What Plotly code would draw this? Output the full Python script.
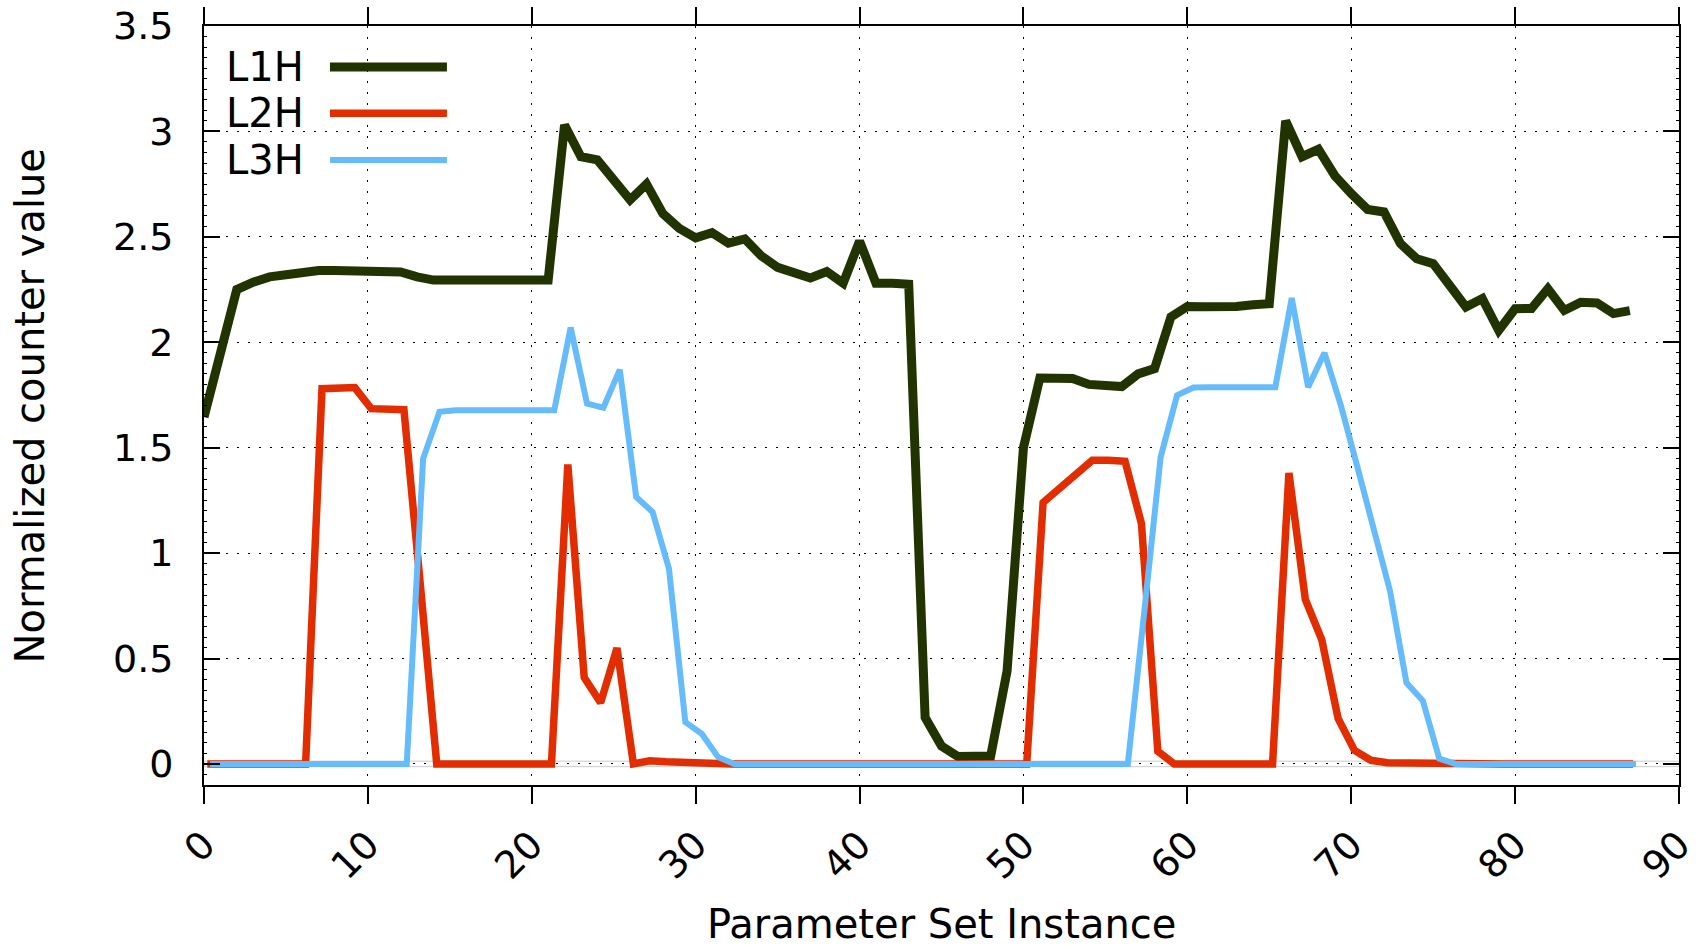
import plotly.graph_objects as go
import numpy as np

# ---------------- data ----------------
instances = list(range(88))
series_names = ["L1H", "L2H", "L3H"]

L1H = [1.645, 1.95, 2.25, 2.285, 2.31, 2.32, 2.333, 2.34, 2.34, 2.34, 2.335, 2.333, 2.333, 2.31,
       2.295, 2.295, 2.295, 2.295, 2.295, 2.295, 2.295, 2.295,
       3.03, 2.88, 2.865, 2.77, 2.675, 2.75, 2.61, 2.54, 2.495, 2.52, 2.47, 2.49, 2.41, 2.355,
       2.335, 2.305, 2.335, 2.28, 2.48, 2.28, 2.28, 2.275,
       0.22, 0.085, 0.035, 0.035, 0.037, 0.44, 1.50, 1.83, 1.83, 1.828, 1.80, 1.795, 1.79,
       1.85, 1.875, 2.12, 2.17, 2.168, 2.165, 2.17, 2.178, 2.183,
       3.05, 2.88, 2.915, 2.79, 2.705, 2.63, 2.618, 2.468, 2.396, 2.373, 2.27, 2.167, 2.207,
       2.056, 2.159, 2.16, 2.254, 2.151, 2.19, 2.186, 2.136, 2.15]

L2H = [0, 0, 0, 0, 0, 0, 0,
       1.78, 1.785, 1.785, 1.685, 1.68, 1.68, 0.85,
       0, 0, 0, 0, 0, 0, 0, 0,
       1.42, 0.41, 0.29, 0.55, 0.0, 0.015, 0.01, 0.006, 0.003,
       0, 0, 0, 0, 0, 0, 0, 0, 0, 0, 0, 0, 0, 0, 0, 0, 0, 0, 0, 0,
       1.24, 1.31, 1.38, 1.44, 1.44, 1.435, 1.14, 0.06,
       0, 0, 0, 0, 0, 0, 0,
       1.38, 0.78, 0.59, 0.215, 0.064, 0.017, 0.006, 0.004, 0.005, 0.003,
       0, 0, 0, 0, 0, 0, 0, 0, 0, 0, 0, 0]

L3H = [0, 0, 0, 0, 0, 0, 0, 0, 0, 0, 0, 0, 0,
       1.448, 1.67,
       1.677, 1.677, 1.677, 1.677, 1.677, 1.677, 1.677,
       2.07, 1.709, 1.69, 1.87, 1.266, 1.195, 0.926, 0.198, 0.143, 0.032,
       0, 0, 0, 0, 0, 0, 0, 0, 0, 0, 0, 0, 0, 0, 0, 0, 0, 0, 0, 0, 0, 0, 0, 0, 0,
       0.72, 1.455, 1.748, 1.785, 1.787, 1.787, 1.786, 1.786, 1.787,
       2.21, 1.787, 1.95, 1.70, 1.41, 1.12, 0.82, 0.385, 0.30, 0.025,
       0, 0, 0, 0, 0, 0, 0, 0, 0, 0, 0, 0]

x_ticks = list(range(0, 91, 10))
y_ticks = [0, 0.5, 1, 1.5, 2, 2.5, 3, 3.5]

# ---------------- style ----------------
colors = ["#213400", "#e22d00", "#66bcfb"]
widths = [9, 7.5, 6]
x_shift = [0.0, 0.2, 0.37]
FONT = "DejaVu Sans"
FS_TICK = 38
FS_TEXT = 40

fig = go.Figure()
for name, vals, c, w, dx in zip(series_names, [L1H, L2H, L3H], colors, widths, x_shift):
    fig.add_trace(go.Scatter(
        x=np.array(instances) + dx, y=vals, mode="lines", name=name,
        line=dict(color=c, width=w), showlegend=False,
    ))

# light grey zero axis band (behind grid)
fig.add_shape(type="rect", xref="paper", yref="y", x0=0, x1=1, y0=-0.013, y1=0.013,
              line=dict(color="#cccccc", width=1), fillcolor="white", layer="below")

# legend: opaque box + text + sample lines (text left of sample, as in gnuplot)
fig.add_shape(type="rect", xref="paper", yref="paper", x0=0.001, x1=0.180, y0=0.793, y1=0.976,
              line=dict(width=0), fillcolor="white", layer="between")
row_y = [0.946, 0.885, 0.8235]
for name, c, w, ry in zip(series_names, colors, widths, row_y):
    fig.add_annotation(text=name, xref="paper", yref="paper", x=0.0135, y=ry,
                       xanchor="left", yanchor="middle", showarrow=False,
                       font=dict(family=FONT, size=FS_TEXT, color="black"))
    fig.add_shape(type="line", xref="paper", yref="paper", x0=0.0854, x1=0.1647, y0=ry, y1=ry,
                  line=dict(color=c, width=w), layer="above")

# axis titles
fig.add_annotation(text="Parameter Set Instance", xref="paper", yref="paper", x=0.5, y=-0.1831,
                   xanchor="center", yanchor="middle", showarrow=False, borderpad=0,
                   font=dict(family=FONT, size=FS_TEXT, color="black"))
fig.add_annotation(text="Normalized counter value", xref="paper", yref="paper", x=-0.118, y=0.5,
                   xanchor="center", yanchor="middle", textangle=-90, showarrow=False,
                   font=dict(family=FONT, size=FS_TEXT, color="black"))

grid_dash = "2px,9px"
fig.update_xaxes(
    range=[0, 90], tickmode="array", tickvals=x_ticks, ticktext=[str(v) for v in x_ticks],
    ticks="outside", ticklen=17, tickwidth=2, tickcolor="black", tickangle=-45,
    showline=True, linewidth=2, linecolor="black", mirror="ticks",
    showgrid=True, gridcolor="black", gridwidth=1, griddash=grid_dash,
    zeroline=False, tickfont=dict(family=FONT, size=FS_TICK, color="black"),
    ticklabelstandoff=3, ticklabeloverflow="allow",
)
fig.update_yaxes(
    range=[-0.1, 3.5], tickmode="array", tickvals=y_ticks, ticktext=[f"{v:g}" for v in y_ticks],
    ticks="inside", ticklen=16, tickwidth=2, tickcolor="black",
    showline=True, linewidth=2, linecolor="black", mirror="ticks",
    showgrid=True, gridcolor="black", gridwidth=1, griddash=grid_dash,
    zeroline=False, tickfont=dict(family=FONT, size=FS_TICK, color="black"),
    minor=dict(tickmode="linear", tick0=0, dtick=0.05, ticks="inside", ticklen=3,
               tickwidth=1, tickcolor="black", showgrid=False),
    ticklabelstandoff=21,
)

fig.update_layout(
    width=1696, height=946,
    margin=dict(l=204, r=17, t=26, b=161, autoexpand=False),
    paper_bgcolor="white", plot_bgcolor="white",
    font=dict(family=FONT, size=FS_TICK, color="black"),
    showlegend=False,
)

fig.write_html("out.html")
